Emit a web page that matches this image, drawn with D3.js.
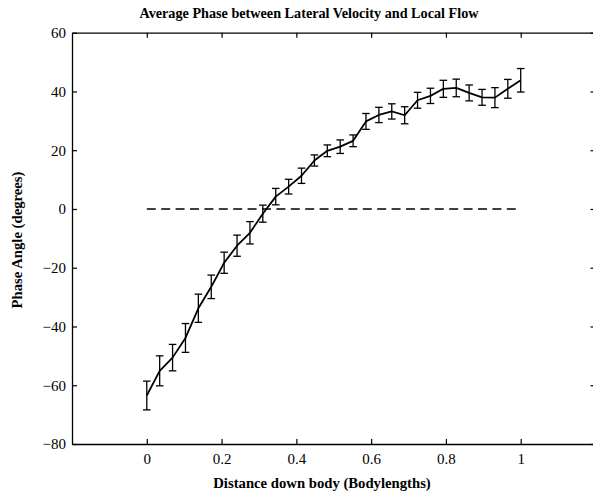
<!DOCTYPE html>
<html>
<head>
<meta charset="utf-8">
<script src="https://cdn.jsdelivr.net/npm/d3@7"></script>
<style>
  html, body { margin: 0; padding: 0; background: #fff; }
  svg { display: block; }
  text { font-family: "Liberation Serif", "Times New Roman", serif; fill: #000; }
</style>
</head>
<body>
<svg id="chart" width="593" height="493"></svg>
<script>
// Mean phase angle (degrees) at 30 stations along the body, with error half-widths
const positions = d3.range(30).map(i => i / 29);
const phase = [-63.5, -55.1, -50.6, -43.9, -33.8, -26.5, -18.3, -12.5, -8.1, -1.6,
               4.2, 7.6, 11.3, 16.5, 19.8, 21.2, 23.2, 29.8, 32.0, 33.2,
               31.9, 37.0, 38.5, 40.9, 41.2, 39.5, 38.0, 37.9, 40.9, 43.8];
const phaseErr = [4.9, 5.1, 4.5, 4.9, 4.8, 4.0, 3.6, 3.6, 3.8, 2.9,
                  2.8, 2.5, 2.6, 1.9, 2.0, 2.3, 2.0, 2.7, 2.6, 2.6,
                  2.9, 2.7, 2.6, 2.9, 3.0, 2.7, 2.7, 3.4, 3.2, 4.0];
const xTicks = [0, 0.2, 0.4, 0.6, 0.8, 1];
const yTicks = [-80, -60, -40, -20, 0, 20, 40, 60];
const refLine = [[0, 0], [1, 0]];

const svg = d3.select("#chart");
const plotLeft = 72, plotRight = 595.5, plotTop = 32.7, plotBottom = 444;

const x = d3.scaleLinear().domain([-0.2, 1.2]).range([plotLeft, plotRight]);
const y = d3.scaleLinear().domain([-80, 60]).range([plotBottom, plotTop]);

const tickLen = 5;

// Axes box (MATLAB style, ticks pointing inward)
const axB = svg.append("g").attr("transform", `translate(0,${plotBottom})`)
  .call(d3.axisBottom(x).tickValues(xTicks).tickSizeInner(-tickLen).tickSizeOuter(0)
        .tickPadding(9).tickFormat(d3.format("~g")));
const axT = svg.append("g").attr("transform", `translate(0,${plotTop})`)
  .call(d3.axisTop(x).tickValues(xTicks).tickSizeInner(-tickLen).tickSizeOuter(0).tickFormat(""));
const axL = svg.append("g").attr("transform", `translate(${plotLeft},0)`)
  .call(d3.axisLeft(y).tickValues(yTicks).tickSizeInner(-tickLen).tickSizeOuter(0)
        .tickPadding(6).tickFormat(d => d < 0 ? "\u2212" + Math.abs(d) : d));
const axR = svg.append("g").attr("transform", `translate(${plotRight},0)`)
  .call(d3.axisRight(y).tickValues(yTicks).tickSizeInner(-tickLen).tickSizeOuter(0).tickFormat(""));

[axB, axT, axL, axR].forEach(g => {
  g.attr("font-family", "Liberation Serif");
  g.select(".domain").attr("stroke", "#000").attr("stroke-width", 1.3);
  g.selectAll(".tick line").attr("stroke", "#000").attr("stroke-width", 1.2);
  g.selectAll(".tick text").attr("font-size", 15).attr("font-family", "Liberation Serif");
});

// Zero reference line
svg.append("path")
  .datum(refLine)
  .attr("d", d3.line().x(d => x(d[0])).y(d => y(d[1])))
  .attr("fill", "none").attr("stroke", "#000").attr("stroke-width", 1.4)
  .attr("stroke-dasharray", "9,5.4");

const data = positions.map((p, i) => ({ p, v: phase[i], e: phaseErr[i] }));

// Error bars
const cap = 3.8;
const eb = svg.append("g").attr("stroke", "#000").attr("stroke-width", 1.3);
data.forEach(d => {
  const cx = x(d.p), y1 = y(d.v + d.e), y2 = y(d.v - d.e);
  eb.append("line").attr("x1", cx).attr("x2", cx).attr("y1", y1).attr("y2", y2);
  eb.append("line").attr("x1", cx - cap).attr("x2", cx + cap).attr("y1", y1).attr("y2", y1);
  eb.append("line").attr("x1", cx - cap).attr("x2", cx + cap).attr("y1", y2).attr("y2", y2);
});

// Mean phase line
svg.append("path")
  .datum(data)
  .attr("d", d3.line().x(d => x(d.p)).y(d => y(d.v)))
  .attr("fill", "none").attr("stroke", "#000").attr("stroke-width", 1.8)
  .attr("stroke-linejoin", "round");

// Title and axis labels
svg.append("text").attr("x", 309).attr("y", 18).attr("text-anchor", "middle")
  .attr("font-size", 14.2).attr("font-weight", "bold")
  .text("Average Phase between Lateral Velocity and Local Flow");
svg.append("text").attr("x", 322).attr("y", 488).attr("text-anchor", "middle")
  .attr("font-size", 14.7).attr("font-weight", "bold")
  .text("Distance down body (Bodylengths)");
svg.append("text").attr("transform", "translate(22,240) rotate(-90)").attr("text-anchor", "middle")
  .attr("font-size", 14.7).attr("font-weight", "bold")
  .text("Phase Angle (degrees)");
</script>
</body>
</html>
